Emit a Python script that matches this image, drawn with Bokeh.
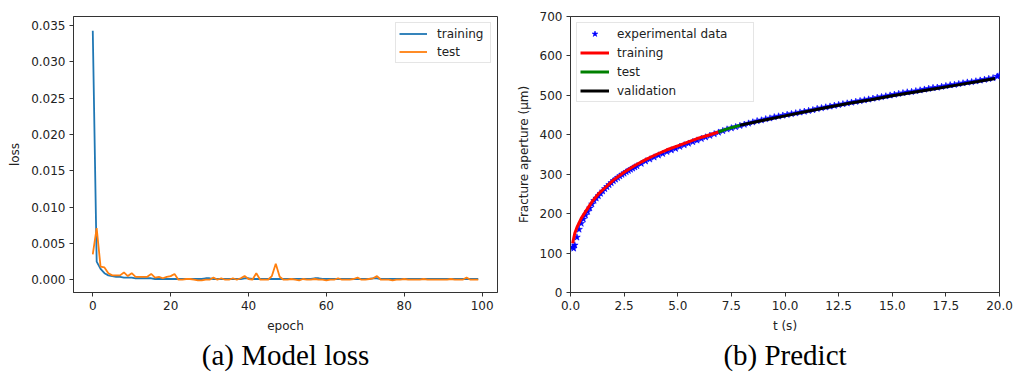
from bokeh.plotting import figure
from bokeh.layouts import row
from bokeh.models import Range1d, FixedTicker, Legend, LegendItem, Title, NumeralTickFormatter
from bokeh.embed import file_html
from bokeh.resources import INLINE

# ---------------- data: (a) model loss ----------------
epochs = list(range(100))
train_loss = [
    0.0343, 0.0025, 0.0015, 0.0009, 0.0006, 0.0005, 0.0004, 0.0004, 0.0003, 0.0003,
    0.0003, 0.0002, 0.0002, 0.0002, 0.0002, 0.0002, 0.0001, 0.0001, 0.0001, 0.0001,
    0.0001, 0.0001, 0.0001, 0.0001, 0.0001, 0.0001, 0.0001, 0.0001, 0.0001, 0.0002,
    0.0002, 0.0001, 0.0001, 0.0001, 0.0001, 0.0001, 0.0001, 0.0001, 0.0001, 0.0002,
    0.0002, 0.0001, 0.0001, 0.0001, 0.0001, 0.0001, 0.0001, 0.0001, 0.0001, 0.0001,
    0.0001, 0.0001, 0.0001, 0.0001, 0.0001, 0.0001, 0.0001, 0.0002, 0.0002, 0.0001,
    0.0001, 0.0001, 0.0001, 0.0001, 0.0001, 0.0001, 0.0001, 0.0001, 0.0001, 0.0001,
    0.0001, 0.0001, 0.0002, 0.0002, 0.0001, 0.0001, 0.0001, 0.0001, 0.0001, 0.0001,
    0.0001, 0.0001, 0.0001, 0.0001, 0.0001, 0.0001, 0.0001, 0.0001, 0.0001, 0.0001,
    0.0001, 0.0001, 0.0001, 0.0001, 0.0001, 0.0001, 0.0001, 0.0001, 0.0001, 0.0001,
]
test_loss = [
    0.0035, 0.0071, 0.0018, 0.0017, 0.0009, 0.0006, 0.0006, 0.0006, 0.0010, 0.0005,
    0.0009, 0.0004, 0.0004, 0.0004, 0.0004, 0.0008, 0.0003, 0.0004, 0.0002, 0.0004,
    0.0005, 0.0008, 0.0000, 0.0000, 0.0001, 0.0001, 0.0000, -0.0001, -0.0001, 0.0000,
    0.0000, 0.0003, 0.0000, 0.0002, 0.0000, 0.0000, 0.0002, 0.0000, 0.0002, 0.0005,
    0.0001, 0.0000, 0.0009, 0.0000, 0.0000, 0.0000, 0.0005, 0.0022, 0.0004, 0.0000,
    0.0000, 0.0001, 0.0000, -0.0001, 0.0001, 0.0000, 0.0000, 0.0001, 0.0000, 0.0000,
    -0.0001, 0.0000, 0.0000, 0.0002, 0.0000, 0.0000, 0.0000, 0.0001, 0.0003, 0.0000,
    0.0000, 0.0001, 0.0002, 0.0005, 0.0000, 0.0000, 0.0000, -0.0001, 0.0000, 0.0000,
    0.0001, 0.0000, 0.0000, 0.0000, 0.0000, 0.0001, 0.0000, 0.0000, 0.0000, 0.0000,
    0.0000, 0.0000, 0.0001, 0.0000, 0.0000, 0.0000, 0.0003, 0.0000, 0.0000, 0.0000,
]
loss_xticks = [0, 20, 40, 60, 80, 100]
loss_yticks = [0.000, 0.005, 0.010, 0.015, 0.020, 0.025, 0.030, 0.035]

# ---------------- data: (b) predict ----------------
exp_t = [
    0.1, 0.15, 0.2, 0.3, 0.4, 0.5, 0.6, 0.7, 0.8, 0.9, 1.0,
    1.1, 1.2, 1.3, 1.4, 1.5, 1.6, 1.7, 1.8, 1.9, 2.0,
    2.1, 2.2, 2.3, 2.4, 2.5, 2.6, 2.7, 2.8, 2.9, 3.0,
    3.1, 3.3, 3.5, 3.7, 3.9,
    4.1, 4.3, 4.5, 4.7, 4.9, 5.1, 5.3, 5.5, 5.7, 5.9,
    6.1, 6.3, 6.5, 6.7, 6.9, 7.1, 7.3, 7.5, 7.7, 7.9,
    8.1, 8.3, 8.5, 8.7, 8.9, 9.1, 9.3, 9.5, 9.7, 9.9,
    10.1, 10.3, 10.5, 10.7, 10.9, 11.1, 11.3, 11.5, 11.7, 11.9,
    12.1, 12.3, 12.5, 12.7, 12.9, 13.1, 13.3, 13.5, 13.7, 13.9,
    14.1, 14.3, 14.5, 14.7, 14.9, 15.1, 15.3, 15.5, 15.7, 15.9,
    16.1, 16.3, 16.5, 16.7, 16.9, 17.1, 17.3, 17.5, 17.7, 17.9,
    18.1, 18.3, 18.5, 18.7, 18.9, 19.1, 19.3, 19.5, 19.7, 19.9, 20.0,
]
exp_aperture = [
    115, 112, 120, 140, 160, 175, 186, 196, 205, 214, 224,
    233, 239, 245, 251, 257, 263, 268, 273, 278, 283,
    287, 291, 295, 299, 302, 306, 309, 312, 315, 318,
    321, 327, 333, 338, 343,
    348, 352, 357, 361, 365, 370, 374, 378, 382, 386,
    390, 394, 398, 402, 406, 410, 414, 417, 420, 423,
    426, 429, 432, 435, 437, 440, 442, 445, 447, 449,
    451, 453, 455, 457, 459, 461, 463, 466, 468, 470,
    472, 474, 476, 478, 480, 482, 484, 486, 488, 490,
    492, 494, 496, 498, 500, 502, 504, 506, 508, 509,
    511, 513, 515, 517, 519, 520, 522, 524, 526, 527,
    529, 531, 533, 534, 536, 538, 540, 542, 544, 548, 551,
]
train_t = [0.1, 0.2, 0.3, 0.5, 0.7, 1.0, 1.3, 1.6, 2.0, 2.5, 3.0, 3.5, 4.0, 4.5, 5.0, 5.5, 6.0, 6.5, 6.9]
train_pred = [125, 150, 165, 188, 205, 230, 250, 265, 285, 305, 322, 337, 350, 362, 372, 382, 392, 400, 407]
test_t = [6.9, 7.2, 7.5, 7.9]
test_pred = [407, 413, 418, 424]
val_t = [7.9, 8.5, 9.0, 10.0, 11.0, 12.0, 13.0, 14.0, 15.0, 16.0, 17.0, 18.0, 19.0, 19.8]
val_pred = [424, 431, 437, 448, 459, 470, 480, 489, 499, 508, 517, 526, 535, 543]
pred_xticks = [0, 2.5, 5, 7.5, 10, 12.5, 15, 17.5, 20]
pred_yticks = [0, 100, 200, 300, 400, 500, 600, 700]

FONT = "DejaVu Sans"
TXT = "#222222"


def style(p):
    p.toolbar.logo = None
    p.outline_line_color = "#333333"
    p.outline_line_width = 1
    p.xgrid.visible = False
    p.ygrid.visible = False
    p.background_fill_color = "white"
    for ax in (p.xaxis[0], p.yaxis[0]):
        ax.major_tick_out = 4
        ax.major_tick_in = 0
        ax.minor_tick_line_color = None
        ax.axis_line_color = "#333333"
        ax.major_tick_line_color = "#333333"
        ax.major_label_text_font = FONT
        ax.major_label_text_font_size = "12px"
        ax.major_label_text_color = TXT
        ax.axis_label_text_font = FONT
        ax.axis_label_text_font_size = "12px"
        ax.axis_label_text_font_style = "normal"
        ax.axis_label_text_color = TXT
        ax.axis_label_standoff = 6
        ax.major_label_standoff = 4


# ---------------- figure (a) ----------------
p1 = figure(width=508, height=375, output_backend="svg", toolbar_location=None,
            x_range=Range1d(-4.95, 103.95), y_range=Range1d(-0.00176, 0.03625),
            min_border_left=73, min_border_right=11, min_border_top=16, min_border_bottom=83)
style(p1)
p1.xaxis.axis_label = "epoch"
p1.yaxis.axis_label = "loss"
p1.xaxis.ticker = FixedTicker(ticks=loss_xticks)
p1.yaxis.ticker = FixedTicker(ticks=loss_yticks)
p1.yaxis.formatter = NumeralTickFormatter(format="0.000")
r_tr = p1.line(epochs, train_loss, line_color="#1f77b4", line_width=1.8)
r_te = p1.line(epochs, test_loss, line_color="#ff7f0e", line_width=1.8)
leg1 = Legend(items=[LegendItem(label="training", renderers=[r_tr]),
                     LegendItem(label="test", renderers=[r_te])],
              location="top_right", margin=6, padding=3, spacing=3,
              glyph_width=28, glyph_height=15, label_standoff=10, label_width=50,
              label_text_font=FONT, label_text_font_size="12px", label_text_color=TXT,
              border_line_color="#cccccc", border_line_width=1)
p1.add_layout(leg1)
p1.add_layout(Title(text="(a) Model loss", align="center", text_font="Liberation Serif",
                    text_font_size="29px", text_font_style="normal", text_color="black",
                    standoff=2), "below")

# ---------------- figure (b) ----------------
p2 = figure(width=505, height=375, output_backend="svg", toolbar_location=None,
            x_range=Range1d(0, 20), y_range=Range1d(0, 700),
            min_border_left=62, min_border_right=14, min_border_top=13, min_border_bottom=83)
style(p2)
p2.xaxis.axis_label = "t (s)"
p2.yaxis.axis_label = "Fracture aperture (μm)"
p2.xaxis.ticker = FixedTicker(ticks=pred_xticks)
p2.yaxis.ticker = FixedTicker(ticks=pred_yticks)
p2.xaxis.formatter = NumeralTickFormatter(format="0.0")
r_exp = p2.scatter(exp_t, exp_aperture, marker="star", size=7, fill_color="#0000ff",
                   line_color="#0000ff", line_width=0.6)
r_trp = p2.line(train_t, train_pred, line_color="#ff0000", line_width=3)
r_tep = p2.line(test_t, test_pred, line_color="#008000", line_width=3)
r_val = p2.line(val_t, val_pred, line_color="#000000", line_width=3)
leg2 = Legend(items=[LegendItem(label="experimental data", renderers=[r_exp]),
                     LegendItem(label="training", renderers=[r_trp]),
                     LegendItem(label="test", renderers=[r_tep]),
                     LegendItem(label="validation", renderers=[r_val])],
              location="top_left", margin=6, padding=3, spacing=4,
              glyph_width=29, glyph_height=15, label_standoff=8, label_width=133,
              label_text_font=FONT, label_text_font_size="12px", label_text_color=TXT,
              border_line_color="#cccccc", border_line_width=1)
p2.add_layout(leg2)
p2.add_layout(Title(text="(b) Predict", align="center", text_font="Liberation Serif",
                    text_font_size="29px", text_font_style="normal", text_color="black",
                    standoff=2), "below")

layout = row(p1, p2)
open("out.html", "w").write(file_html(layout, INLINE))
